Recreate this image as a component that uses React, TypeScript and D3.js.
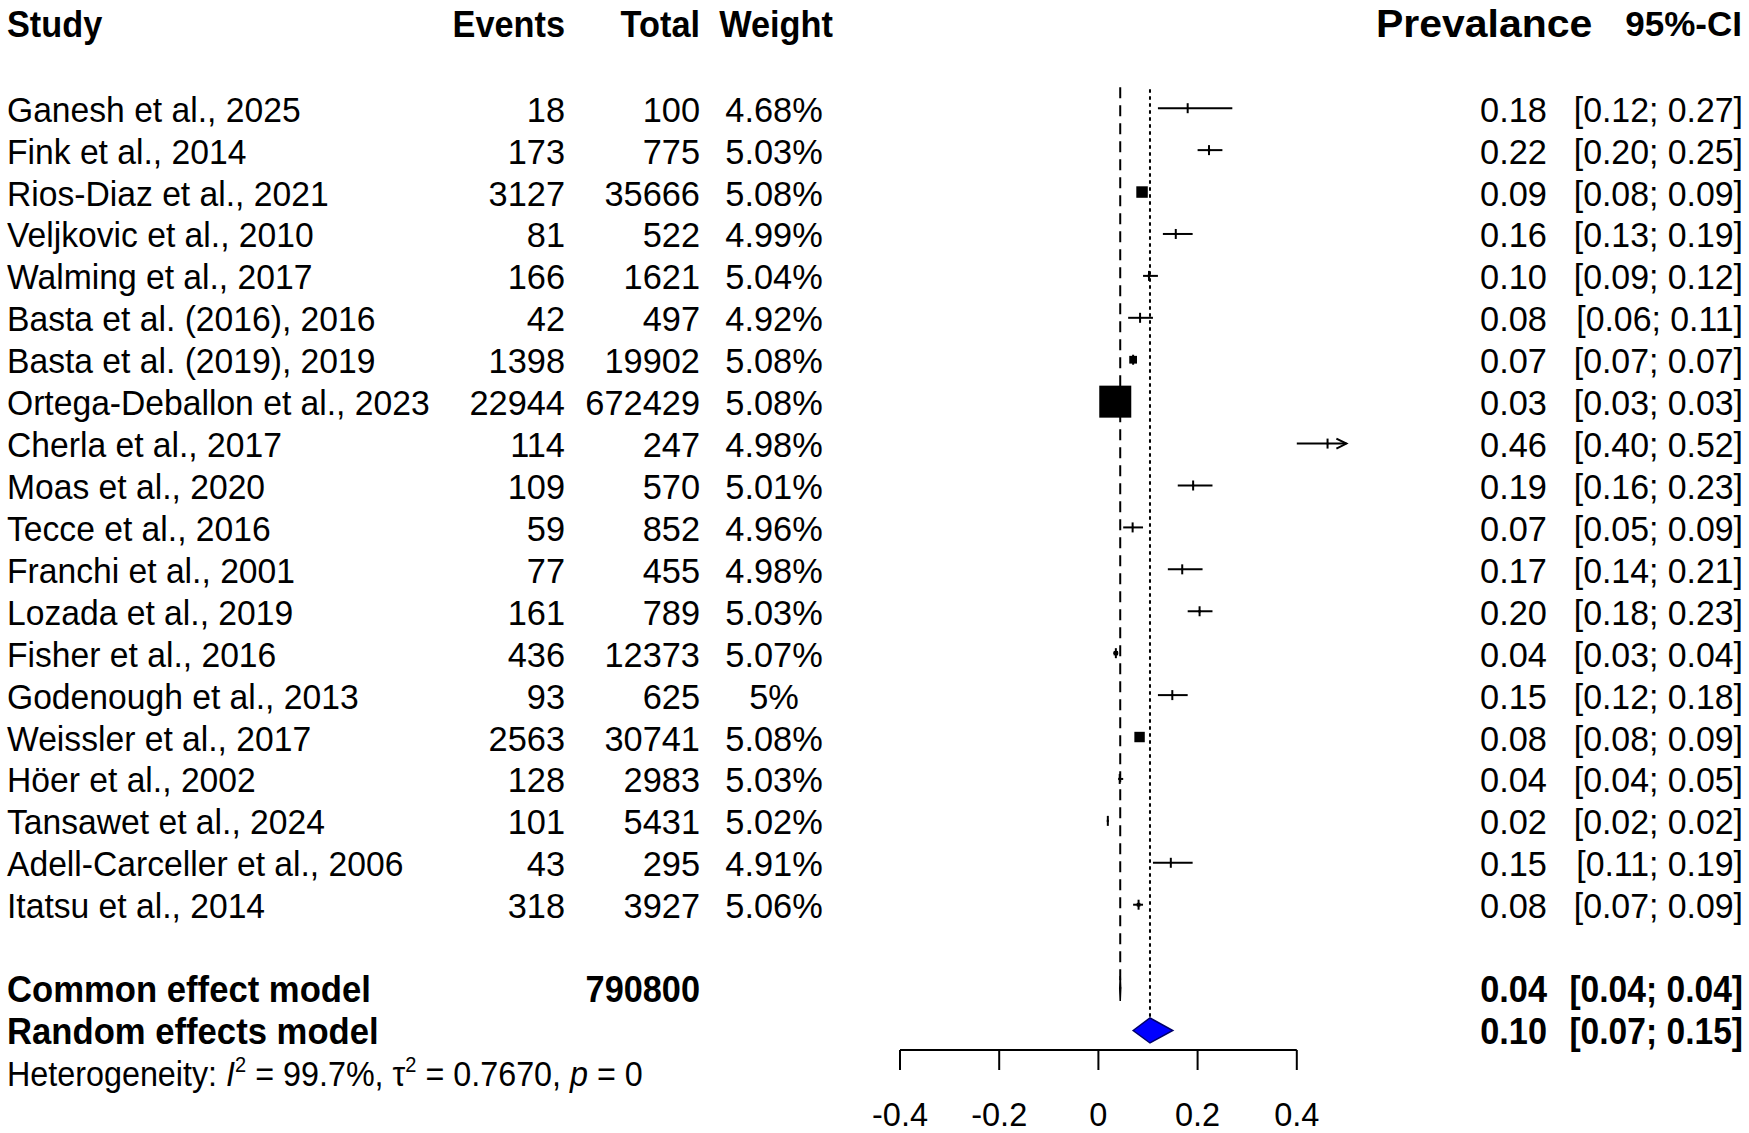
import React from 'react';
import * as d3 from 'd3';

const studies = [
  'Ganesh et al., 2025', 'Fink et al., 2014', 'Rios-Diaz et al., 2021', 'Veljkovic et al., 2010',
  'Walming et al., 2017', 'Basta et al. (2016), 2016', 'Basta et al. (2019), 2019',
  'Ortega-Deballon et al., 2023', 'Cherla et al., 2017', 'Moas et al., 2020', 'Tecce et al., 2016',
  'Franchi et al., 2001', 'Lozada et al., 2019', 'Fisher et al., 2016', 'Godenough et al., 2013',
  'Weissler et al., 2017', 'Höer et al., 2002', 'Tansawet et al., 2024',
  'Adell-Carceller et al., 2006', 'Itatsu et al., 2014',
];
const events = [18, 173, 3127, 81, 166, 42, 1398, 22944, 114, 109, 59, 77, 161, 436, 93, 2563, 128, 101, 43, 318];
const totals = [100, 775, 35666, 522, 1621, 497, 19902, 672429, 247, 570, 852, 455, 789, 12373, 625, 30741, 2983, 5431, 295, 3927];
const weights = [4.68, 5.03, 5.08, 4.99, 5.04, 4.92, 5.08, 5.08, 4.98, 5.01, 4.96, 4.98, 5.03, 5.07, 5, 5.08, 5.03, 5.02, 4.91, 5.06];
const est = [0.18, 0.223, 0.088, 0.156, 0.102, 0.084, 0.07, 0.034, 0.462, 0.191, 0.069, 0.169, 0.204, 0.0352, 0.149, 0.083, 0.043, 0.019, 0.146, 0.081];
const lower = [0.12, 0.2, 0.08, 0.13, 0.09, 0.06, 0.07, 0.03, 0.4, 0.16, 0.05, 0.14, 0.18, 0.03, 0.12, 0.08, 0.04, 0.02, 0.11, 0.07];
const upper = [0.27, 0.25, 0.09, 0.19, 0.12, 0.11, 0.07, 0.03, 0.52, 0.23, 0.09, 0.21, 0.23, 0.04, 0.18, 0.09, 0.05, 0.02, 0.19, 0.09];

const commonModel = { label: 'Common effect model', est: 0.044, lower: 0.043, upper: 0.045, total: 790800 };
const randomModel = { label: 'Random effects model', est: 0.104, lower: 0.07, upper: 0.15 };

const xDomain = [-0.4, 0.5];
const tickValues = [-0.4, -0.2, 0, 0.2, 0.4];

const FONT = "'Liberation Sans', Arial, Helvetica, sans-serif";

function T({ x, y, anchor = 'start', bold = false, size = 36, sx = 0.95, children }: any) {
  return (
    <text
      transform={`translate(${x},${y}) scale(${sx},1)`}
      textAnchor={anchor}
      fontSize={size}
      fontWeight={bold ? 'bold' : 'normal'}
      fontFamily={FONT}
      fill="#000"
    >
      {children}
    </text>
  );
}

export default function App() {
  const W = 1749;
  const H = 1133;
  const x = d3.scaleLinear().domain(xDomain).range([900, 1346.4]);
  const y = d3.scaleLinear().domain([0, 23]).range([108.2, 1072.4]);
  const cw = events.map((e, i) => (e * (totals[i] - e)) / totals[i]);
  const side = d3.scaleSqrt().domain([0, d3.max(cw) as number]).range([0, 32]);
  const f2 = d3.format('.2f');
  const base = 13.5;
  const dh = 12.5;
  const xMax = xDomain[1];

  const colStudy = 7;
  const colEvents = 565;
  const colTotal = 700;
  const colWeight = 774;
  const colEst = 1547;
  const colCI = 1743;

  const sxName = 0.935;
  const sxNum = 0.955;
  const sxCI = 0.94;
  const sxBold = 0.95;

  const commonRow = 21;
  const randomRow = 22;
  const hetRow = 23;

  const axisY = 1050;

  const diamond = (m: any, row: number) => {
    const cy = y(row);
    return `M${x(m.lower)},${cy} L${x(m.est)},${cy - dh} L${x(m.upper)},${cy} L${x(m.est)},${cy + dh} Z`;
  };

  return (
    <svg width={W} height={H} style={{ position: 'absolute', left: 0, top: 0, background: '#fff' }}>
      <rect x={0} y={0} width={W} height={H} fill="#fff" />
      {/* headers */}
      <T x={colStudy} y={37} bold size={36.5} sx={0.94}>Study</T>
      <T x={colEvents} y={37} bold size={36.5} sx={0.94} anchor="end">Events</T>
      <T x={colTotal} y={37} bold size={36.5} sx={0.94} anchor="end">Total</T>
      <T x={776} y={37} bold size={36.5} sx={0.94} anchor="middle">Weight</T>
      <T x={1376} y={36.5} bold size={39} sx={1.05}>Prevalance</T>
      <T x={1742} y={36} bold size={35} sx={1} anchor="end">95%-CI</T>

      {/* reference lines */}
      <line x1={x(commonModel.est)} x2={x(commonModel.est)} y1={y(0) - 21} y2={y(commonRow)}
        stroke="#000" strokeWidth={2} strokeDasharray="11,7" />
      <line x1={x(randomModel.est)} x2={x(randomModel.est)} y1={y(0) - 19} y2={y(randomRow) - dh}
        stroke="#000" strokeWidth={2} strokeDasharray="3.5,3.5" />

      {/* study rows */}
      {studies.map((s, i) => {
        const cy = y(i);
        const by = cy + base;
        const hi = Math.min(upper[i], xMax);
        const clipped = upper[i] > xMax;
        const sd = side(cw[i]);
        return (
          <g key={s}>
            <T x={colStudy} y={by} sx={sxName}>{s}</T>
            <T x={colEvents} y={by} sx={sxNum} anchor="end">{events[i]}</T>
            <T x={colTotal} y={by} sx={sxNum} anchor="end">{totals[i]}</T>
            <T x={colWeight} y={by} sx={sxNum} anchor="middle">{`${weights[i]}%`}</T>
            <T x={colEst} y={by} sx={sxNum} anchor="end">{f2(est[i])}</T>
            <T x={colCI} y={by} sx={sxCI} anchor="end">{`[${f2(lower[i])}; ${f2(upper[i])}]`}</T>
            <line x1={x(lower[i])} x2={x(hi)} y1={cy} y2={cy} stroke="#000" strokeWidth={2} />
            {clipped && (
              <path d={`M${x(hi) - 10},${cy - 5} L${x(hi)},${cy} L${x(hi) - 10},${cy + 5}`}
                fill="none" stroke="#000" strokeWidth={2} />
            )}
            <line x1={x(est[i])} x2={x(est[i])} y1={cy - 5} y2={cy + 5} stroke="#000" strokeWidth={2} />
            <rect x={x(est[i]) - sd / 2} y={cy - sd / 2} width={sd} height={sd} fill="#000" />
          </g>
        );
      })}

      {/* summary rows */}
      <T x={colStudy} y={y(commonRow) + base} bold sx={sxBold} size={36.5}>{commonModel.label}</T>
      <T x={colTotal} y={y(commonRow) + base} bold sx={0.94} size={36.5} anchor="end">{commonModel.total}</T>
      <T x={colEst} y={y(commonRow) + base} bold sx={0.94} size={36.5} anchor="end">{f2(commonModel.est)}</T>
      <T x={colCI} y={y(commonRow) + base} bold sx={0.92} size={36.5} anchor="end">{`[${f2(commonModel.lower)}; ${f2(commonModel.upper)}]`}</T>
      <path d={diamond(commonModel, commonRow)} fill="#0000ff" stroke="#000" strokeWidth={1.5} />

      <T x={colStudy} y={y(randomRow) + base} bold sx={sxBold} size={36.5}>{randomModel.label}</T>
      <T x={colEst} y={y(randomRow) + base} bold sx={0.94} size={36.5} anchor="end">{f2(randomModel.est)}</T>
      <T x={colCI} y={y(randomRow) + base} bold sx={0.92} size={36.5} anchor="end">{`[${f2(randomModel.lower)}; ${f2(randomModel.upper)}]`}</T>
      <path d={diamond(randomModel, randomRow)} fill="#0000ff" stroke="#00006a" strokeWidth={1.5} />

      {/* heterogeneity */}
      <text transform={`translate(${colStudy},${y(hetRow) + base}) scale(0.91,1)`} fontSize={35.5} fontFamily={FONT} fill="#000">
        Heterogeneity:{' '}
        <tspan fontStyle="italic">I</tspan>
        <tspan dy={-14} fontSize={22}>2</tspan>
        <tspan dy={14}>{' = 99.7%, τ'}</tspan>
        <tspan dy={-14} fontSize={22}>2</tspan>
        <tspan dy={14}>{' = 0.7670, '}</tspan>
        <tspan fontStyle="italic">p</tspan>
        <tspan>{' = 0'}</tspan>
      </text>

      {/* axis */}
      <line x1={x(tickValues[0])} x2={x(tickValues[tickValues.length - 1])} y1={axisY} y2={axisY} stroke="#000" strokeWidth={2} />
      {tickValues.map((t) => (
        <g key={t}>
          <line x1={x(t)} x2={x(t)} y1={axisY} y2={axisY + 20} stroke="#000" strokeWidth={2} />
          <T x={x(t)} y={1126} anchor="middle" size={32.5} sx={1}>{String(t)}</T>
        </g>
      ))}
    </svg>
  );
}
